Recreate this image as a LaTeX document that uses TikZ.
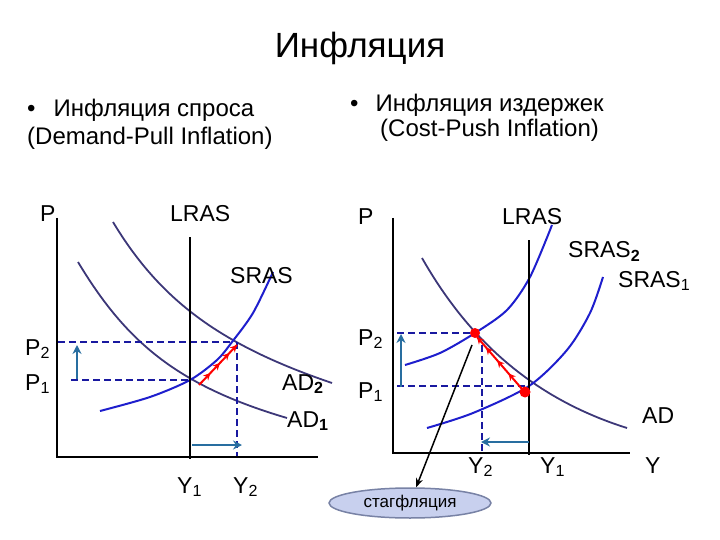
\documentclass[tikz,border=0pt]{standalone}
\usepackage{fontspec}
\setmainfont{Liberation Sans}
\usetikzlibrary{arrows.meta,decorations.markings,shapes.geometric}
\definecolor{adcol}{RGB}{60,55,120}
\definecolor{srascol}{RGB}{30,30,205}
\definecolor{dashcol}{RGB}{25,25,160}
\definecolor{shiftcol}{RGB}{40,110,160}
\definecolor{ovalfill}{RGB}{200,208,238}
\definecolor{ovaldraw}{RGB}{120,130,165}

\begin{document}
\begin{tikzpicture}[x=1pt, y=-1pt,
    lab/.style = {font=\fontsize{23}{26}\selectfont, inner sep=0pt, anchor=base west},
    ad/.style = {adcol, line width=1.8pt},
    sras/.style = {srascol, line width=2pt},
    axis/.style = {black, line width=2.4pt},
    guide/.style = {dashcol, line width=1.8pt, dash pattern=on 7pt off 4pt},
    movearrow/.style = {shiftcol, line width=2.8pt, -{Stealth[length=9pt,width=9pt]}},
    redmove/.style = {red, line width=2pt, postaction={decorate},
        decoration={markings,
            mark=at position 0.3 with {\arrow{Stealth[length=7pt,width=7pt]}},
            mark=at position 0.55 with {\arrow{Stealth[length=7pt,width=7pt]}},
            mark=at position 0.8 with {\arrow{Stealth[length=7pt,width=7pt]}},
            mark=at position 1 with {\arrow{Stealth[length=7pt,width=7pt]}}}},
    dot/.style = {circle, fill=red, inner sep=0pt, minimum size=#1}]
\useasboundingbox (0,0) rectangle (720,540);

% headings
\node[anchor=base, inner sep=0pt, font=\fontsize{35}{40}\selectfont] (title) at (360,58) {Инфляция};
\node[lab, font=\fontsize{24}{28}\selectfont] (dp1) at (27,117) {•\hspace{18pt}Инфляция спроса};
\node[lab, font=\fontsize{24}{28}\selectfont] (dp2) at (27,145) {(Demand-Pull Inflation)};
\node[lab, font=\fontsize{24}{28}\selectfont] (cp1) at (350,112) {•\hspace{17pt}Инфляция издержек};
\node[lab, font=\fontsize{24}{28}\selectfont] (cp2) at (380,137) {(Cost-Push Inflation)};

% left panel: demand-pull
\coordinate (o1) at (57,457);
\coordinate (ptop1) at (57,218);
\coordinate (yend1) at (318,457);
\coordinate (lrtop1) at (190,237);
\coordinate (lrbot1) at (190,459);
\coordinate (e1) at (190,380);
\coordinate (e2) at (233,342);
\coordinate (p1l) at (71,380);
\coordinate (p2l) at (58,342);
\coordinate (y2l) at (237,342);
\coordinate (y2b) at (237,457);

\draw[ad] (78,262) .. controls (125,340) and (175,385) .. (287,418);
\draw[ad] (113,222) .. controls (160,300) and (220,345) .. (332,383);
\draw[sras] plot[smooth] coordinates {(100,411) (150,397) (190,380) (217,360) (232,342) (253,313) (273,272)};

\draw[guide] (p2l) -- (e2);
\draw[guide] (p1l) -- (e1);
\draw[guide] (y2l) -- (y2b);
\draw[axis] (ptop1) -- (o1) -- (yend1);
\draw[black, line width=2.4pt] (lrtop1) -- (lrbot1);

\coordinate (up1a) at (77,379);
\coordinate (up1b) at (77,345);
\coordinate (rt1a) at (192,445);
\coordinate (rt1b) at (242,445);
\draw[movearrow] (up1a) -- (up1b);
\draw[movearrow] (rt1a) -- (rt1b);
\coordinate (rs1) at (199,385);
\coordinate (rs2) at (237,345);
\draw[redmove] (rs1) -- (rs2);

\node[lab] (pl) at (40,222) {P};
\node[lab] (lrasl) at (170,222) {LRAS};
\node[lab] (srasl) at (230,283) {SRAS};
\node[lab] (p2lab) at (25,355) {P\textsubscript{2}};
\node[lab] (p1lab) at (25,390) {P\textsubscript{1}};
\node[lab] (ad2l) at (282,390) {AD\textsubscript{\textbf{2}}};
\node[lab] (ad1l) at (287,427) {AD\textsubscript{\textbf{1}}};
\node[lab] (y1l) at (177,493) {Y\textsubscript{1}};
\node[lab] (y2lab) at (233,493) {Y\textsubscript{2}};

% right panel: cost-push
\coordinate (o2) at (393,453);
\coordinate (ptop2) at (393,218);
\coordinate (yend2) at (630,453);
\coordinate (lrtop2) at (529,240);
\coordinate (lrbot2) at (529,455);
\coordinate (f1) at (529,386);
\coordinate (f2) at (475,333);
\coordinate (p2r) at (397,333);
\coordinate (p1r) at (397,386);
\coordinate (y2r) at (482,345);
\coordinate (y2rb) at (482,453);

\draw[ad] (422,258) .. controls (462,328) and (522,395) .. (627,428);
\draw[sras] plot[smooth] coordinates {(405,365) (440,353) (475,333) (507,310) (530,277) (552,225)};
\draw[sras] plot[smooth] coordinates {(427,428) (473,413) (529,386) (567,350) (590,313) (603,277)};

\draw[guide] (p2r) -- (f2);
\draw[guide] (p1r) -- (f1);
\draw[guide] (y2r) -- (y2rb);
\draw[axis] (ptop2) -- (o2) -- (yend2);
\draw[black, line width=2.4pt] (lrtop2) -- (lrbot2);

\coordinate (up2a) at (401,387);
\coordinate (up2b) at (401,334);
\coordinate (lt2a) at (529,442);
\coordinate (lt2b) at (481,442);
\draw[movearrow] (up2a) -- (up2b);
\draw[movearrow] (lt2a) -- (lt2b);

\node[dot=10pt] (d2) at (475,333) {};
\node[dot=11pt] (d1) at (525,392) {};
\coordinate (rr1) at (522,389);
\coordinate (rr2) at (477,337);
\draw[redmove] (rr1) -- (rr2);

\node[ellipse, draw=ovaldraw, fill=ovalfill, line width=1.5pt, minimum width=162pt, minimum height=30pt,
      inner sep=0pt, font=\fontsize{17}{20}\selectfont] (stag) at (410,503) {стагфляция};
\coordinate (stagfrom) at (472,345);
\draw[black, line width=1.5pt, -{Stealth[length=9pt,width=7pt]}] (stagfrom) -- (stag);

\node[lab] (pr) at (358,225) {P};
\node[lab] (lrasr) at (502,225) {LRAS};
\node[lab] (sras2l) at (568,258) {SRAS\textsubscript{\textbf{2}}};
\node[lab] (sras1l) at (618,287) {SRAS\textsubscript{1}};
\node[lab] (p2rlab) at (358,345) {P\textsubscript{2}};
\node[lab] (p1rlab) at (358,398) {P\textsubscript{1}};
\node[lab] (adl) at (642,423) {AD};
\node[lab] (y2rlab) at (468,473) {Y\textsubscript{2}};
\node[lab] (y1rlab) at (540,473) {Y\textsubscript{1}};
\node[lab] (yl) at (645,473) {Y};
\end{tikzpicture}
\end{document}
